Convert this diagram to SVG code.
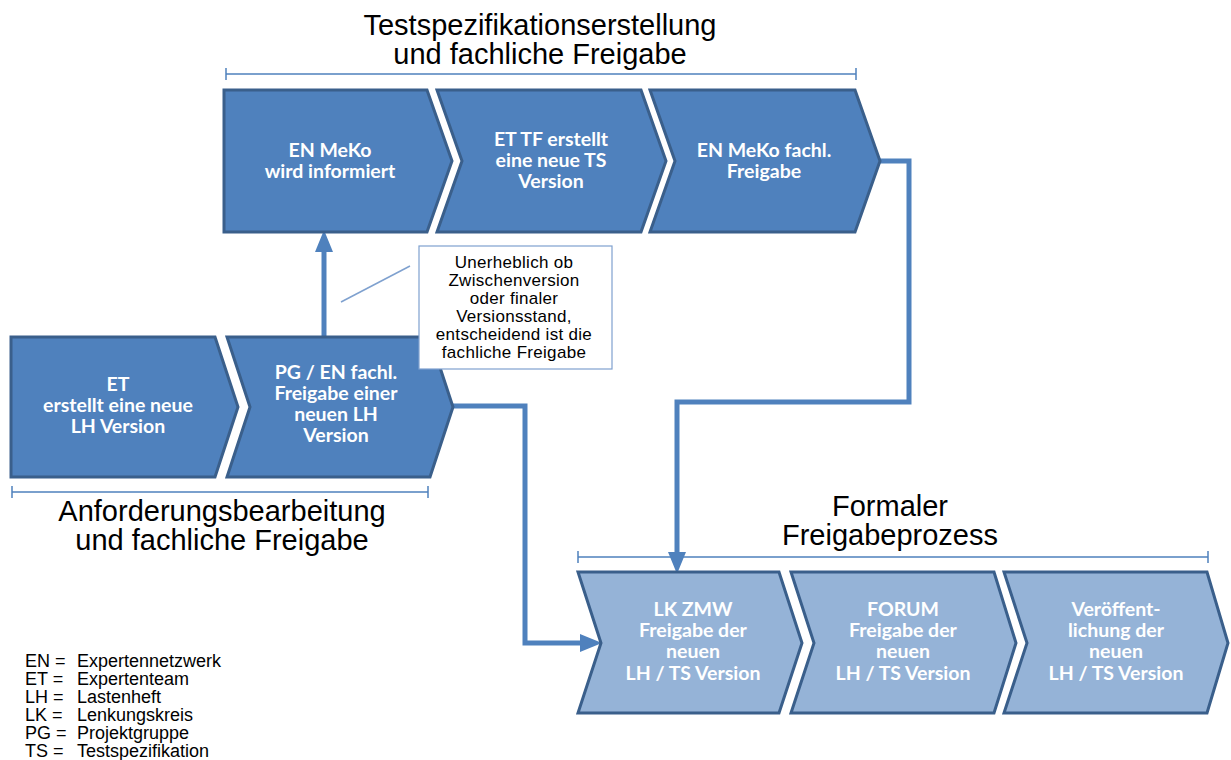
<svg xmlns="http://www.w3.org/2000/svg" width="1231" height="760" viewBox="0 0 1231 760">
<style>
.dk{fill:#4f81bd;stroke:#3a5f8b;stroke-width:3;stroke-linejoin:miter}
.lt{fill:#95b3d7;stroke:#3a5f8b;stroke-width:3;stroke-linejoin:miter}
.ct{font-family:Lato,"Open Sans",sans-serif;font-weight:bold;font-size:19.5px;fill:#ffffff;text-anchor:middle}
.ttl{font-family:"Liberation Sans",Arial,sans-serif;font-size:29px;fill:#000;text-anchor:middle}
.br{stroke:#4f81bd;stroke-width:1.5;fill:none}
.con{stroke:#4f81bd;stroke-width:5;fill:none;stroke-linejoin:miter}
.call{font-family:"Liberation Sans",Arial,sans-serif;font-size:17px;letter-spacing:0.3px;fill:#000;text-anchor:middle}
.leg{font-family:"Liberation Sans",Arial,sans-serif;font-size:18px;fill:#000}
</style>
<defs>
<marker id="ah" markerUnits="userSpaceOnUse" markerWidth="22" markerHeight="20" refX="10" refY="9" orient="auto">
<path d="M0,0 L22,9 L0,18 Z" fill="#4f81bd"/>
</marker>
</defs>
<rect width="1231" height="760" fill="#ffffff"/>

<g id="titles">
<text class="ttl" x="540" y="35">Testspezifikationserstellung</text>
<text class="ttl" x="540" y="64">und fachliche Freigabe</text>
<text class="ttl" x="222" y="521">Anforderungsbearbeitung</text>
<text class="ttl" x="222" y="550">und fachliche Freigabe</text>
<text class="ttl" x="890" y="516">Formaler</text>
<text class="ttl" x="890" y="545">Freigabeprozess</text>
</g>

<g id="brackets">
<path class="br" d="M226,74 H856 M226,68 V80 M856,68 V80"/>
<path class="br" d="M12,492 H428 M12,486 V498 M428,486 V498"/>
<path class="br" d="M578,557 H1208 M578,551 V563 M1208,551 V563"/>
</g>

<g id="connectors">
<path class="con" d="M324,337 V242" marker-end="url(#ah)"/>
<path class="con" d="M878,161 H909 V402 H677 V562" marker-end="url(#ah)"/>
<path class="con" d="M452,406 H525 V643 H590" marker-end="url(#ah)"/>
<line x1="341" y1="302" x2="410" y2="266" stroke="#7fa1cf" stroke-width="1.5"/>
</g>

<g id="n-en-meko">
<path class="dk" d="M224,90 H427 L452,161 L427,232 H224 Z"/>
<text class="ct" x="330" y="157">EN MeKo</text>
<text class="ct" x="330" y="178">wird informiert</text>
</g>
<g id="n-et-tf">
<path class="dk" d="M437,90 H641 L666,161 L641,232 H437 L462,161 Z"/>
<text class="ct" x="551" y="146">ET TF erstellt</text>
<text class="ct" x="551" y="167">eine neue TS</text>
<text class="ct" x="551" y="188">Version</text>
</g>
<g id="n-en-fachl">
<path class="dk" d="M650,90 H855 L880,161 L855,232 H650 L675,161 Z"/>
<text class="ct" x="764" y="157">EN MeKo fachl.</text>
<text class="ct" x="764" y="178">Freigabe</text>
</g>

<g id="n-et">
<path class="dk" d="M11,337 H215 L238,407 L215,477 H11 Z"/>
<text class="ct" x="118" y="391">ET</text>
<text class="ct" x="118" y="412">erstellt eine neue</text>
<text class="ct" x="118" y="433">LH Version</text>
</g>
<g id="n-pg">
<path class="dk" d="M227,337 H430 L453,407 L430,477 H227 L250,407 Z"/>
<text class="ct" x="336" y="379">PG / EN fachl.</text>
<text class="ct" x="336" y="400">Freigabe einer</text>
<text class="ct" x="336" y="421">neuen LH</text>
<text class="ct" x="336" y="442">Version</text>
</g>

<g id="n-note">
<rect x="419" y="246" width="193" height="123" fill="#ffffff" stroke="#7fa1cf" stroke-width="1.2"/>
<text class="call" x="514" y="268">Unerheblich  ob</text>
<text class="call" x="514" y="286">Zwischenversion</text>
<text class="call" x="514" y="304">oder finaler</text>
<text class="call" x="514" y="322">Versionsstand,</text>
<text class="call" x="514" y="340">entscheidend ist die</text>
<text class="call" x="514" y="358">fachliche Freigabe</text>
</g>

<g id="n-lk">
<path class="lt" d="M578,572 H779 L802,643 L779,713 H578 L601,643 Z"/>
<text class="ct" x="693" y="616">LK ZMW</text>
<text class="ct" x="693" y="637">Freigabe der</text>
<text class="ct" x="693" y="658">neuen</text>
<text class="ct" x="693" y="680">LH / TS Version</text>
</g>
<g id="n-forum">
<path class="lt" d="M791,572 H994 L1016,643 L994,713 H791 L814,643 Z"/>
<text class="ct" x="903" y="616">FORUM</text>
<text class="ct" x="903" y="637">Freigabe der</text>
<text class="ct" x="903" y="658">neuen</text>
<text class="ct" x="903" y="680">LH / TS Version</text>
</g>
<g id="n-veroeff">
<path class="lt" d="M1004,572 H1207 L1228,643 L1207,713 H1004 L1027,643 Z"/>
<text class="ct" x="1116" y="616">Veröffent-</text>
<text class="ct" x="1116" y="637">lichung der</text>
<text class="ct" x="1116" y="658">neuen</text>
<text class="ct" x="1116" y="680">LH / TS Version</text>
</g>

<g id="legend">
<text class="leg" x="25" y="667">EN =</text><text class="leg" x="77" y="667">Expertennetzwerk</text>
<text class="leg" x="25" y="685">ET =</text><text class="leg" x="77" y="685">Expertenteam</text>
<text class="leg" x="25" y="703">LH =</text><text class="leg" x="77" y="703">Lastenheft</text>
<text class="leg" x="25" y="721">LK =</text><text class="leg" x="77" y="721">Lenkungskreis</text>
<text class="leg" x="25" y="739">PG =</text><text class="leg" x="77" y="739">Projektgruppe</text>
<text class="leg" x="25" y="757">TS =</text><text class="leg" x="77" y="757">Testspezifikation</text>
</g>
</svg>
